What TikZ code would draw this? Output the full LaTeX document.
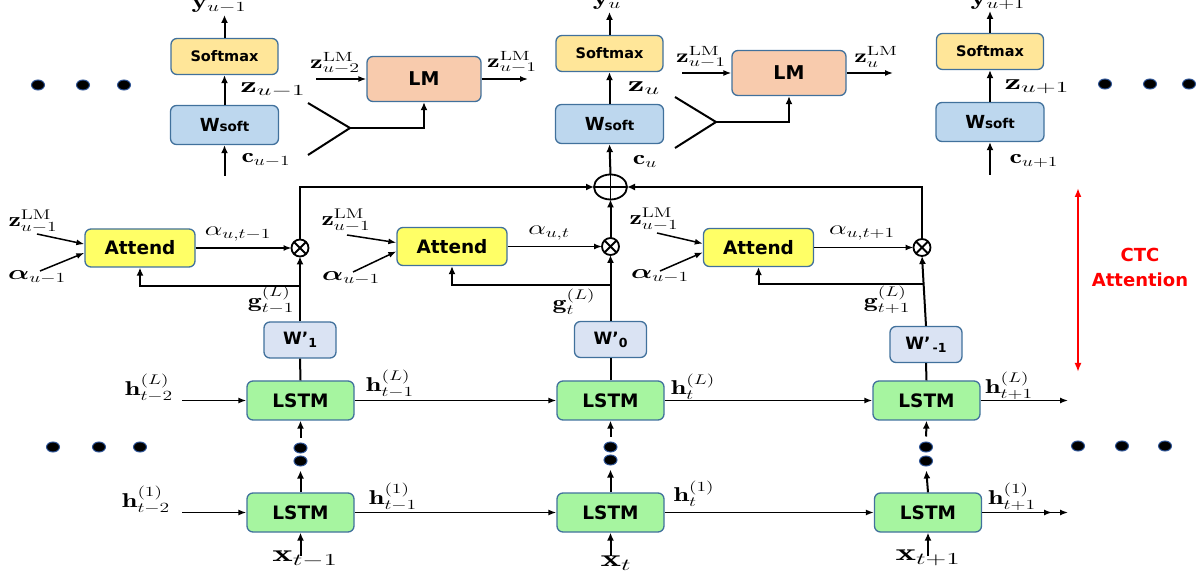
\RequirePackage{fix-cm}
\documentclass[tikz,border=0pt]{standalone}
\usepackage{amsmath}
\usepackage{bm}
\usepackage{fontspec}
\setsansfont{DejaVu Sans}
\usetikzlibrary{arrows.meta,shapes.geometric}
\definecolor{bord}{HTML}{41719C}
\definecolor{smfill}{HTML}{FFE699}
\definecolor{wsfill}{HTML}{BDD7EE}
\definecolor{lmfill}{HTML}{F8CBAD}
\definecolor{atfill}{HTML}{FFFF66}
\definecolor{wpfill}{HTML}{DAE3F3}
\definecolor{lsfill}{HTML}{A6F5A0}
\definecolor{dotbord}{HTML}{2F5597}
\newcommand{\ml}[2][1.4]{\scalebox{#1}[1]{$#2$}}
\newcommand{\wsoft}{{\fontsize{18}{20}\selectfont W}{\fontsize{13.5}{15}\selectfont soft}}
\newcommand{\wprime}[1]{{\fontsize{17}{20}\selectfont W’}\raisebox{-3pt}{\fontsize{12.5}{14}\selectfont #1}}
\begin{document}
\begin{tikzpicture}[x=1pt,y=-1pt,
 box/.style={draw=bord,line width=1.3pt,rounded corners=6pt,inner sep=0pt,font=\sffamily\bfseries},
 smbox/.style={box,fill=smfill,minimum width=107pt,minimum height=36pt,font=\sffamily\bfseries\fontsize{14.5}{17}\selectfont},
 wsbox/.style={box,fill=wsfill,minimum width=108pt,minimum height=39pt},
 lmbox/.style={box,fill=lmfill,minimum width=114pt,minimum height=45pt,font=\sffamily\bfseries\fontsize{19}{22}\selectfont},
 atbox/.style={box,fill=atfill,minimum width=110pt,minimum height=38pt,font=\sffamily\bfseries\fontsize{18.5}{22}\selectfont},
 wpbox/.style={box,fill=wpfill,minimum width=72pt,minimum height=36pt},
 lsbox/.style={box,fill=lsfill,minimum width=107pt,minimum height=39pt,font=\sffamily\bfseries\fontsize{18.5}{22}\selectfont},
 arr/.style={line width=2pt,-{Latex[length=8pt,width=7pt]}},
 harr/.style={line width=1.5pt,-{Latex[length=8pt,width=6pt]}},
 ln/.style={line width=2pt},
 lab/.style={inner sep=0pt,font=\fontsize{20}{24}\selectfont},
 dotn/.style={ellipse,fill=black,draw=dotbord,line width=1pt,minimum width=13pt,minimum height=10pt,inner sep=0pt},
 otimes/.style={circle,draw,line width=1.8pt,minimum size=17pt,inner sep=0pt,outer sep=0pt},
]
\useasboundingbox (0,0) rectangle (1203,577);

% ---------- top row ----------
\node[smbox] (smL) at (224.5,56.5) {Softmax};
\node[wsbox] (wsL) at (224.5,125) {\wsoft};
\node[lmbox] (lmL) at (424,79) {LM};
\node[smbox] (smM) at (609.5,53.5) {Softmax};
\node[wsbox] (wsM) at (609.5,124) {\wsoft};
\node[lmbox] (lmM) at (789,73) {LM};
\node[smbox] (smR) at (990,51.5) {Softmax};
\node[wsbox] (wsR) at (990,122) {\wsoft};

\coordinate (yL) at (224.5,15);
\coordinate (yM) at (609.5,12);
\coordinate (yR) at (990,11);
\coordinate (cL) at (224.5,176);
\coordinate (cR) at (990,175);
\draw[arr] (smL.north) -- (yL);
\draw[arr] (smM.north) -- (yM);
\draw[arr] (smR.north) -- (yR);
\draw[arr] (wsL.north) -- (smL.south);
\draw[arr] (wsM.north) -- (smM.south);
\draw[arr] (wsR.north) -- (smR.south);
\draw[arr] (cL) -- (wsL.south);
\draw[arr] (cR) -- (wsR.south);

\coordinate (fL1) at (308,103);
\coordinate (fL2) at (308,155);
\coordinate (jL) at (350,128);
\draw[ln] (fL1) -- (jL) -- (fL2);
\draw[arr] (jL) -| (lmL.south);
\coordinate (fM1) at (675,97);
\coordinate (fM2) at (675,148);
\coordinate (jM) at (716,122);
\draw[ln] (fM1) -- (jM) -- (fM2);
\draw[arr] (jM) -| (lmM.south);

\coordinate (zinL) at (316,79);
\coordinate (zoutL) at (528,79);
\coordinate (zinM) at (682,73);
\coordinate (zoutM) at (893,73);
\draw[harr] (zinL) -- (lmL.west);
\draw[harr] (lmL.east) -- (zoutL);
\draw[harr] (zinM) -- (lmM.west);
\draw[harr] (lmM.east) -- (zoutM);

% ---------- attention ----------
\node[draw,ellipse,line width=1.8pt,minimum width=33pt,minimum height=25pt,inner sep=0pt,outer sep=0pt] (pl) at (610.5,187) {};
\draw[line width=1.5pt] (pl.north) -- (pl.south) (pl.west) -- (pl.east);
\draw[arr] (pl.north) -- (wsM.south);

\node[atbox] (atL) at (140,248) {Attend};
\node[atbox] (atM) at (452,246.5) {Attend};
\node[atbox] (atR) at (758.5,247.5) {Attend};

\node[otimes] (oL) at (300,248) {};
\node[otimes] (oM) at (610.5,246.5) {};
\node[otimes] (oR) at (922,247.5) {};
\foreach \o in {oL,oM,oR}{
  \draw[line width=1.8pt] (\o.north west) -- (\o.south east) (\o.north east) -- (\o.south west);
}
\draw[harr] (atL.east) -- (oL.west);
\draw[harr] (atM.east) -- (oM.west);
\draw[harr] (atR.east) -- (oR.west);
\draw[arr] (oL.north) |- (pl.west);
\draw[arr] (oR.north) |- (pl.east);
\draw[arr] (oM.north) -- (pl.south);

\node[wpbox] (wp1) at (300,340) {\wprime{1}};
\node[wpbox] (wp0) at (610.5,339.5) {\wprime{0}};
\node[wpbox] (wpm) at (926,344.5) {\wprime{\,-1}};
\draw[arr] (wp1.north) -- (oL.south);
\draw[arr] (wp0.north) -- (oM.south);
\draw[arr] (wpm.north) -- (oR.south);

\coordinate (fbL) at (300,286);
\coordinate (fbM) at (610.5,285);
\coordinate (fbR) at (923.5,284);
\draw[arr] (fbL) -| (atL.south);
\draw[arr] (fbM) -| (atM.south);
\draw[arr] (fbR) -| (atR.south);

\coordinate (zaL) at (37,234);
\coordinate (aaL) at (40,271);
\coordinate (zaM) at (347,235);
\coordinate (aaM) at (353,272);
\coordinate (zaR) at (657,233);
\coordinate (aaR) at (660,271);
\draw[harr] (zaL) -- (atL.176);
\draw[harr] (aaL) -- (atL.185);
\draw[harr] (zaM) -- (atM.176);
\draw[harr] (aaM) -- (atM.185);
\draw[harr] (zaR) -- (atR.176);
\draw[harr] (aaR) -- (atR.185);

% ---------- LSTM ----------
\node[lsbox] (lsL1) at (300.5,400.5) {LSTM};
\node[lsbox] (lsLM) at (610.5,400.5) {LSTM};
\node[lsbox] (lsLR) at (926.5,400.5) {LSTM};
\node[lsbox] (ls11) at (300.5,512.5) {LSTM};
\node[lsbox] (ls1M) at (610.5,512.5) {LSTM};
\node[lsbox] (ls1R) at (928,512.5) {LSTM};
\draw[ln] (lsL1.north) -- (wp1.south);
\draw[ln] (lsLM.north) -- (wp0.south);
\draw[ln] (lsLR.north) -- (wpm.south);

\coordinate (hinL) at (182,400.5);
\coordinate (houtL) at (1068,400.5);
\coordinate (hin1) at (182,512.5);
\coordinate (hout1) at (1068,512.5);
\draw[harr] (hinL) -- (lsL1.west);
\draw[harr] (lsL1.east) -- (lsLM.west);
\draw[harr] (lsLM.east) -- (lsLR.west);
\draw[harr] (lsLR.east) -- (houtL);
\draw[harr] (hin1) -- (ls11.west);
\draw[harr] (ls11.east) -- (ls1M.west);
\draw[harr] (ls1M.east) -- (ls1R.west);
\draw[line width=1.5pt,-{Latex[length=8pt,width=6pt,sep=8pt]Latex[length=8pt,width=6pt]}] (ls1R.east) -- (hout1);

\node[dotn] (vL1) at (300.5,448) {};
\node[dotn] (vL2) at (300.5,461) {};
\node[dotn] (vM1) at (610.5,447) {};
\node[dotn] (vM2) at (610.5,460) {};
\node[dotn] (vR1) at (926,447) {};
\node[dotn] (vR2) at (926,461) {};
\draw[arr,shorten <=5pt] (vL1.north) -- (lsL1.south);
\draw[arr,shorten <=5pt] (vM1.north) -- (lsLM.south);
\draw[arr,shorten <=5pt] (vR1.north) -- (lsLR.south);
\draw[arr,shorten >=4pt] (ls11.north) -- (vL2.south);
\draw[arr,shorten >=4pt] (ls1M.north) -- (vM2.south);
\draw[arr,shorten >=4pt] (ls1R.north) -- (vR2.south);

\coordinate (xinL) at (300.5,556);
\coordinate (xinM) at (610.5,556);
\coordinate (xinR) at (928,556);
\draw[arr] (xinL) -- (ls11.south);
\draw[arr] (xinM) -- (ls1M.south);
\draw[arr] (xinR) -- (ls1R.south);

% ---------- dots ----------
\node[dotn] (d1) at (38,85) {};
\node[dotn] (d2) at (83,85) {};
\node[dotn] (d3) at (124,85) {};
\node[dotn] (d4) at (1105,84) {};
\node[dotn] (d5) at (1150,84) {};
\node[dotn] (d6) at (1189,84) {};
\node[dotn] (d7) at (53,447) {};
\node[dotn] (d8) at (99,447) {};
\node[dotn] (d9) at (140,447) {};
\node[dotn] (d10) at (1078,446) {};
\node[dotn] (d11) at (1122,446) {};
\node[dotn] (d12) at (1165,446) {};

% ---------- CTC attention ----------
\coordinate (rt) at (1078,188);
\coordinate (rb) at (1078,372);
\draw[red,line width=2pt,{Latex[length=9pt,width=7pt]}-{Latex[length=9pt,width=7pt]}] (rt) -- (rb);
\node[font=\sffamily\bfseries\fontsize{18}{25}\selectfont,text=red,align=center,inner sep=0pt] (ctc) at (1140,267) {CTC\\Attention};

% ---------- labels ----------
\node[lab,font=\fontsize{20}{24}\selectfont] (t1) at (219,6) {\ml[1.5]{\mathbf{y}_{u-1}}};
\node[lab,font=\fontsize{20}{24}\selectfont] (t2) at (607,3) {\ml[1.5]{\mathbf{y}_{u}}};
\node[lab,font=\fontsize{20}{24}\selectfont] (t3) at (998,3) {\ml[1.5]{\mathbf{y}_{u+1}}};
\node[lab,font=\fontsize{22}{26}\selectfont] (t4) at (273,90) {\ml[1.7]{\mathbf{z}_{u-1}}};
\node[lab,font=\fontsize{22}{26}\selectfont] (t5) at (644,88) {\ml[1.7]{\mathbf{z}_{u}}};
\node[lab,font=\fontsize{22}{26}\selectfont] (t6) at (1037,87) {\ml[1.7]{\mathbf{z}_{u+1}}};
\node[lab] (t7) at (266,160) {\ml{\mathbf{c}_{u-1}}};
\node[lab] (t8) at (645,161) {\ml{\mathbf{c}_{u}}};
\node[lab] (t9) at (1034,161) {\ml{\mathbf{c}_{u+1}}};
\node[lab,font=\fontsize{19}{23}\selectfont] (t10) at (335,63) {\ml[1.5]{\mathbf{z}^{\mathrm{LM}}_{u-2}}};
\node[lab,font=\fontsize{19}{23}\selectfont] (t11) at (512,62) {\ml[1.5]{\mathbf{z}^{\mathrm{LM}}_{u-1}}};
\node[lab,font=\fontsize{19}{23}\selectfont] (t12) at (701,57) {\ml[1.5]{\mathbf{z}^{\mathrm{LM}}_{u-1}}};
\node[lab,font=\fontsize{19}{23}\selectfont] (t13) at (876,57) {\ml[1.5]{\mathbf{z}^{\mathrm{LM}}_{u}}};
\node[lab] (t14) at (33,221) {\ml{\mathbf{z}^{\mathrm{LM}}_{u-1}}};
\node[lab] (t15) at (346,220) {\ml{\mathbf{z}^{\mathrm{LM}}_{u-1}}};
\node[lab] (t16) at (654,219) {\ml{\mathbf{z}^{\mathrm{LM}}_{u-1}}};
\node[lab] (t17) at (37,277) {\ml{\bm{\alpha}_{u-1}}};
\node[lab] (t18) at (351,278) {\ml{\bm{\alpha}_{u-1}}};
\node[lab] (t19) at (660,276) {\ml{\bm{\alpha}_{u-1}}};
\node[lab] (t20) at (238,234) {\ml{\alpha_{u,t-1}}};
\node[lab] (t21) at (549,233) {\ml{\alpha_{u,t}}};
\node[lab] (t22) at (862,233) {\ml{\alpha_{u,t+1}}};
\node[lab] (t23) at (271,300) {\ml{\mathbf{g}^{(L)}_{t-1}}};
\node[lab] (t24) at (574,302) {\ml{\mathbf{g}^{(L)}_{t}}};
\node[lab] (t25) at (887,300) {\ml{\mathbf{g}^{(L)}_{t+1}}};
\node[lab] (t26) at (149,388) {\ml{\mathbf{h}^{(L)}_{t-2}}};
\node[lab] (t27) at (146,500) {\ml{\mathbf{h}^{(1)}_{t-2}}};
\node[lab] (t28) at (390,384) {\ml{\mathbf{h}^{(L)}_{t-1}}};
\node[lab] (t29) at (393,497) {\ml{\mathbf{h}^{(1)}_{t-1}}};
\node[lab] (t30) at (693,387) {\ml{\mathbf{h}^{(L)}_{t}}};
\node[lab] (t31) at (694,494) {\ml{\mathbf{h}^{(1)}_{t}}};
\node[lab] (t32) at (1009,386) {\ml{\mathbf{h}^{(L)}_{t+1}}};
\node[lab] (t33) at (1012,497) {\ml{\mathbf{h}^{(1)}_{t+1}}};
\node[lab,font=\fontsize{24}{28}\selectfont] (t34) at (305,559) {\ml[1.62]{\mathbf{x}_{t-1}}};
\node[lab,font=\fontsize{24}{28}\selectfont] (t35) at (616,563) {\ml[1.62]{\mathbf{x}_{t}}};
\node[lab,font=\fontsize{24}{28}\selectfont] (t36) at (928,558) {\ml[1.62]{\mathbf{x}_{t+1}}};
\end{tikzpicture}
\end{document}
